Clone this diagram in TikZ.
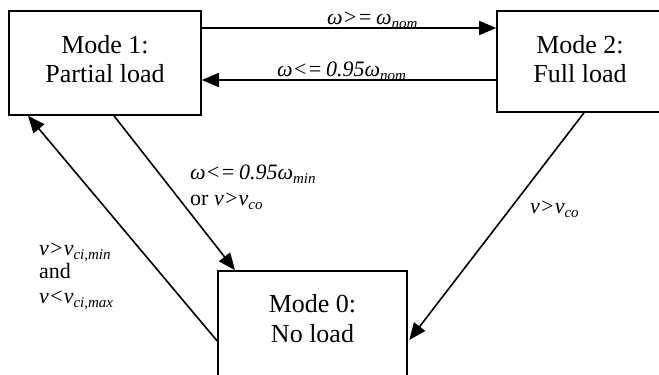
\documentclass[tikz,border=0pt]{standalone}
\usepackage{fontspec}
\setmainfont{Liberation Serif}
\usetikzlibrary{arrows.meta}
\newcommand\sbs[1]{\raisebox{-0.22em}{\fontsize{15}{15}\selectfont #1}}
\tikzset{
  box/.style={draw, line width=1.6pt, inner sep=0pt, rectangle},
  boxtxt/.style={font=\fontsize{26}{29}\selectfont, anchor=base, inner sep=0pt},
  lbl/.style={font=\fontsize{22}{24}\selectfont, anchor=base west, inner sep=0pt},
  arr/.style={line width=1.6pt, -{Triangle[length=17pt,width=14pt]}}
}
\begin{document}
\begin{tikzpicture}[x=1pt,y=-1pt]
\useasboundingbox (0,0) rectangle (659,375);
\clip (0,0) rectangle (659,375);
% boxes
\node[box, minimum width=192pt, minimum height=104pt] (m1) at (105,63) {};
\node[box, minimum width=166pt, minimum height=101pt] (m2) at (580,61.5) {};
\node[box, minimum width=189pt, minimum height=107pt] (m0) at (312.5,324.5) {};
% box texts
\node[boxtxt] (t1a) at (105,53) {Mode 1:};
\node[boxtxt] (t1b) at (105,82) {Partial load};
\node[boxtxt] (t2a) at (580,53) {Mode 2:};
\node[boxtxt] (t2b) at (580,82) {Full load};
\node[boxtxt] (t0a) at (312.5,312) {Mode 0:};
\node[boxtxt] (t0b) at (312.5,342) {No load};
% connectors
\draw[arr] ([yshift=35pt]m1.east) -- ([yshift=35pt]m1.east -| m2.west);
\draw[arr] ([yshift=-17pt]m1.east -| m2.west) -- ([yshift=-17pt]m1.east);
\draw[arr] ([xshift=9pt]m1.south) -- ([xshift=-77.5pt]m0.north);
\draw[arr] ([yshift=-16.5pt]m0.west) -- ([xshift=-77pt]m1.south);
\draw[arr] ([xshift=4pt]m2.south) -- ([xshift=1.5pt,yshift=-15.5pt]m0.east);
% labels
\node[lbl] (l1) at (327,24) {\textit{ω>=\,ω\sbs{nom}}};
\node[lbl] (l2) at (277,76) {\textit{ω<=\,0.95ω\sbs{nom}}};
\node[lbl] (l3) at (190,179) {\textit{ω<=\,0.95ω\sbs{min}}};
\node[lbl] (l4) at (190,205) {or \textit{v>v\sbs{co}}};
\node[lbl] (l5) at (39,255) {\textit{v>v\sbs{ci,min}}};
\node[lbl] (l6) at (39,278) {and};
\node[lbl] (l7) at (39,303) {\textit{v<v\sbs{ci,max}}};
\node[lbl] (l8) at (530,213) {\textit{v>v\sbs{co}}};
\end{tikzpicture}
\end{document}
